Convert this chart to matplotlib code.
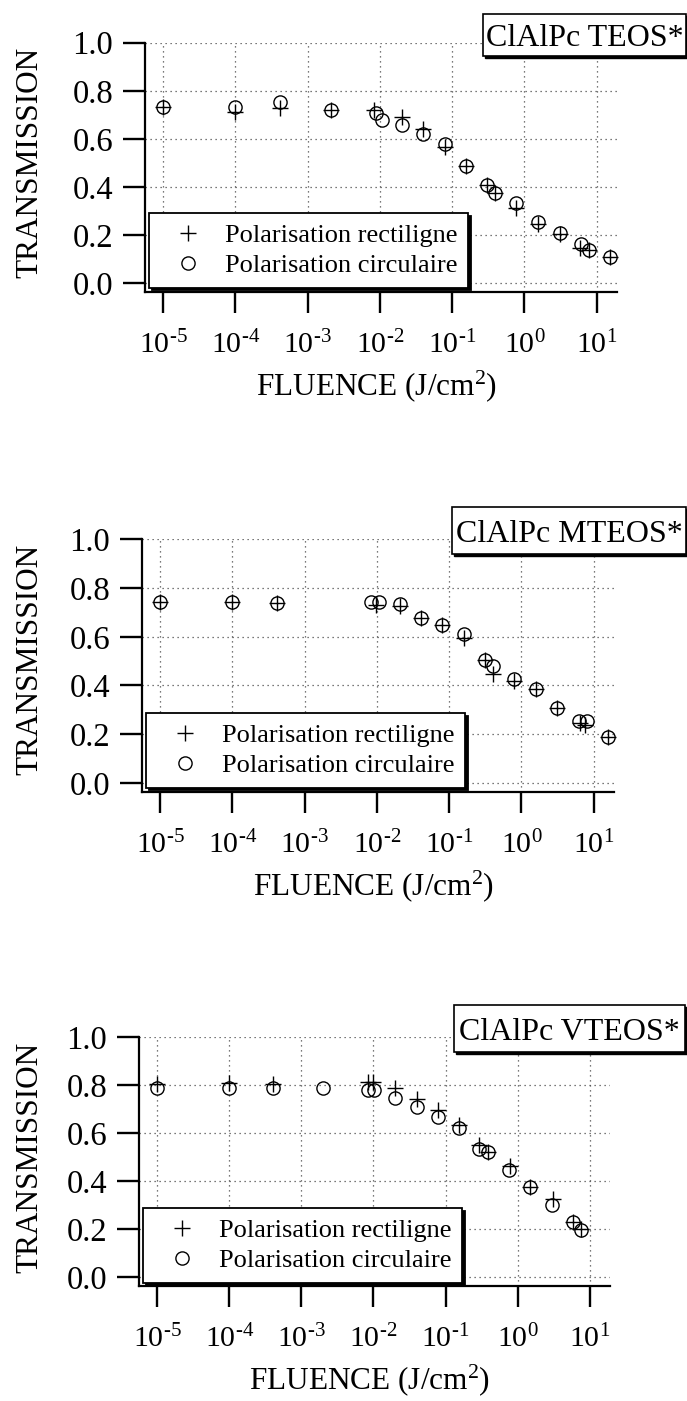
# Transmission vs fluence, ClAlPc in three sol-gel matrices
# linear (+) and circular (o) polarisation, log fluence axis

import numpy as np
import matplotlib
matplotlib.use('Agg')
import matplotlib.pyplot as plt
from matplotlib.patches import Rectangle
from matplotlib.ticker import NullLocator

plt.rcParams['font.family'] = ['Liberation Serif', 'DejaVu Serif']
plt.rcParams['mathtext.fontset'] = 'custom'
plt.rcParams['mathtext.rm'] = 'Liberation Serif'
plt.rcParams['mathtext.it'] = 'Liberation Serif:italic'

###########################################
# data (fluence in J/cm2, transmission)

lin_label = 'Polarisation rectiligne'
circ_label = 'Polarisation circulaire'
titles = ['ClAlPc TEOS*', 'ClAlPc MTEOS*', 'ClAlPc VTEOS*']
decades = [-5, -4, -3, -2, -1, 0, 1]
yticks = [0.0, 0.2, 0.4, 0.6, 0.8, 1.0]

teos_fl_lin = [1.0e-5, 1.0e-4, 4.2e-4, 2.1e-3, 8.2e-3, 2.05e-2, 3.9e-2, 7.9e-2,
               0.157, 0.30, 0.395, 0.77, 1.54, 3.07, 5.8, 7.8, 15.1]
teos_T_lin = [0.731, 0.713, 0.727, 0.72, 0.72, 0.690, 0.64, 0.567,
              0.488, 0.409, 0.374, 0.312, 0.245, 0.205, 0.145, 0.138, 0.108]
teos_fl_circ = [1.0e-5, 1.0e-4, 4.2e-4, 2.1e-3, 8.9e-3, 1.06e-2, 2.05e-2, 3.9e-2,
                7.9e-2, 0.157, 0.30, 0.395, 0.77, 1.54, 3.07, 6.0, 7.8, 15.1]
teos_T_circ = [0.731, 0.731, 0.755, 0.72, 0.706, 0.679, 0.658, 0.62,
               0.579, 0.488, 0.409, 0.374, 0.332, 0.253, 0.208, 0.163, 0.138, 0.108]

mteos_fl_lin = [1.0e-5, 1.0e-4, 4.2e-4, 9.8e-3, 2.06e-2, 4.1e-2, 8.0e-2, 0.159,
                0.311, 0.406, 0.784, 1.57, 3.06, 6.5, 7.6, 15.8]
mteos_T_lin = [0.744, 0.741, 0.74, 0.73, 0.725, 0.678, 0.648, 0.594,
               0.504, 0.449, 0.42, 0.384, 0.306, 0.245, 0.238, 0.187]
mteos_fl_circ = [1.0e-5, 1.0e-4, 4.2e-4, 8.2e-3, 1.07e-2, 2.06e-2, 4.1e-2, 8.0e-2,
                 0.159, 0.311, 0.406, 0.784, 1.57, 3.06, 6.2, 8.1, 15.8]
mteos_T_circ = [0.744, 0.741, 0.74, 0.741, 0.741, 0.733, 0.678, 0.648,
                0.611, 0.504, 0.479, 0.425, 0.384, 0.306, 0.255, 0.255, 0.187]

vteos_fl_lin = [1.0e-5, 1.0e-4, 4.0e-4, 8.3e-3, 1.0e-2, 2.0e-2, 4.0e-2, 7.9e-2,
                0.155, 0.29, 0.385, 0.78, 1.5, 3.1, 5.9, 7.6]
vteos_T_lin = [0.805, 0.808, 0.805, 0.815, 0.815, 0.79, 0.742, 0.697,
               0.635, 0.551, 0.521, 0.465, 0.378, 0.325, 0.232, 0.2]
vteos_fl_circ = [1.0e-5, 9.8e-5, 4.0e-4, 2.0e-3, 8.45e-3, 1.01e-2, 2.0e-2, 3.98e-2,
                 7.76e-2, 0.152, 0.295, 0.385, 0.77, 1.5, 3.0, 5.8, 7.55]
vteos_T_circ = [0.79, 0.79, 0.79, 0.787, 0.78, 0.78, 0.746, 0.711,
                0.669, 0.621, 0.533, 0.521, 0.447, 0.378, 0.301, 0.232, 0.197]

###########################################
# layout, in pixels from the top left of the 687x1401 figure
W, H = 687, 1401
axes_px = [(145, 42.7, 617, 291.7), (142, 539.3, 614, 791.7), (139, 1037.3, 610, 1286)]
title_px = [(483, 14, 686, 56), (452, 507, 686, 554), (454, 1005, 685, 1052)]
legend_px = [(149, 213), (146, 713), (143, 1208)]

fig = plt.figure(figsize=(W / 100, H / 100), dpi=100)


def px_box(x0, y0, x1, y1):
    return [x0 / W, 1 - y1 / H, (x1 - x0) / W, (y1 - y0) / H]


def decade_label(d):
    # short hyphen in the exponent, like the original
    if d < 0:
        return r'$\mathregular{10^{\text{-}%d}}$' % (-d)
    return r'$\mathregular{10^{%d}}$' % d


def panel(i, fl_lin, T_lin, fl_circ, T_circ):
    x0, y0, x1, y1 = axes_px[i]
    ax = fig.add_axes(px_box(x0, y0, x1, y1))

    ax.plot(fl_lin, T_lin, '+', color='k', ms=11, mew=1.0, label=lin_label, clip_on=False, zorder=3)
    ax.plot(fl_circ, T_circ, 'o', color='k', mfc='none', ms=9.5, mew=1.0, label=circ_label,
            clip_on=False, zorder=3)

    ax.set_xscale('log')
    ax.set_xlim(10 ** -5.25, 10 ** 1.28)
    ax.set_ylim(-0.036, 1.0)
    ax.set_xticks([10.0 ** d for d in decades])
    ax.set_xticklabels([decade_label(d) for d in decades])
    ax.xaxis.set_minor_locator(NullLocator())
    ax.set_yticks(yticks)
    ax.set_yticklabels(['%.1f' % v for v in yticks])

    for s in ['top', 'right']:
        ax.spines[s].set_visible(False)
    for s in ['left', 'bottom']:
        ax.spines[s].set_linewidth(1.6)

    ax.grid(True, linestyle=(0, (1, 3)), linewidth=0.9, color='0.3')
    ax.tick_params(axis='x', direction='out', length=15, width=1.7, labelsize=21.5, pad=13)
    ax.tick_params(axis='y', direction='out', length=16, width=1.7, labelsize=23.5, pad=7)

    # legend box
    lx, ly = legend_px[i]
    leg = ax.legend(loc='upper left', bbox_to_anchor=(lx / W, 1 - ly / H),
                    bbox_transform=fig.transFigure, borderaxespad=0, fancybox=False,
                    edgecolor='k', framealpha=1, fontsize=19, handlelength=2.15,
                    handletextpad=0.33, borderpad=0.4, labelspacing=0.25,
                    shadow={'color': 'k', 'alpha': 1})
    leg.get_frame().set_linewidth(1.3)

    # axis labels
    fig.text(30 / W, 1 - (y0 + 120) / H, 'TRANSMISSION', rotation=90,
             ha='center', va='center', fontsize=22.5)
    fig.text(((x0 + x1) / 2 - 5) / W, 1 - (y1 + 94) / H, 'FLUENCE (J/cm$\\mathregular{^2}$)',
             ha='center', va='center', fontsize=22.5)

    # sample name box
    tx0, ty0, tx1, ty1 = title_px[i]
    fig.add_artist(Rectangle((tx0 / W + 2 / W, 1 - ty1 / H - 2 / H), (tx1 - tx0) / W, (ty1 - ty0) / H,
                             transform=fig.transFigure, facecolor='k', edgecolor='k'))
    fig.add_artist(Rectangle((tx0 / W, 1 - ty1 / H), (tx1 - tx0) / W, (ty1 - ty0) / H,
                             transform=fig.transFigure, facecolor='white', edgecolor='k', lw=1.2))
    fig.text((tx0 + tx1) / 2 / W, 1 - (ty0 + ty1) / 2 / H, titles[i],
             ha='center', va='center_baseline', fontsize=23)
    return ax


panel(0, teos_fl_lin, teos_T_lin, teos_fl_circ, teos_T_circ)
panel(1, mteos_fl_lin, mteos_T_lin, mteos_fl_circ, mteos_T_circ)
panel(2, vteos_fl_lin, vteos_T_lin, vteos_fl_circ, vteos_T_circ)

fig.savefig('out.png', dpi=100)
